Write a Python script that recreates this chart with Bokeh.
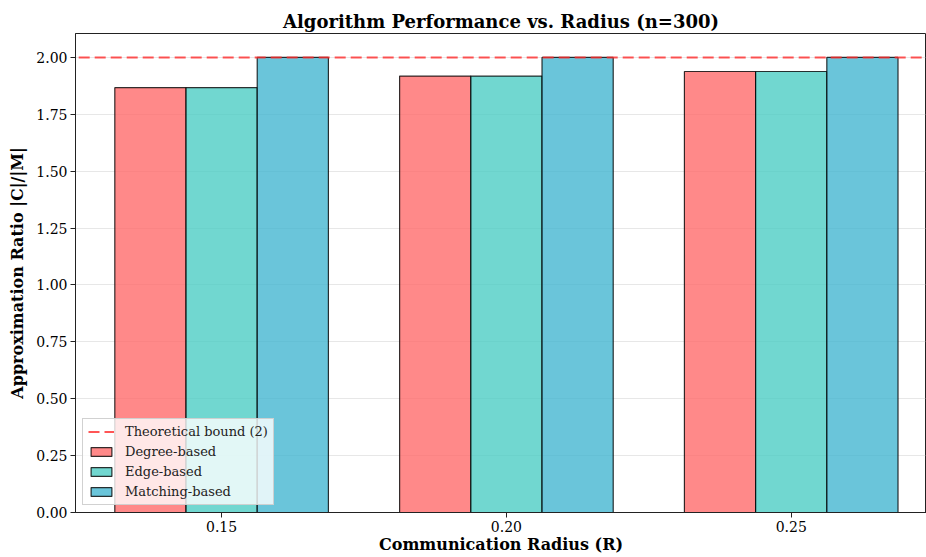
from bokeh.plotting import figure
from bokeh.models import (Legend, LegendItem, FixedTicker, NumeralTickFormatter,
                          ColumnDataSource, Range1d)
from bokeh.embed import file_html
from bokeh.resources import INLINE

# ---- data ----
radii = ["0.15", "0.20", "0.25"]
degree_based = [1.867, 1.918, 1.938]
edge_based = [1.867, 1.918, 1.938]
matching_based = [2.0, 2.0, 2.0]
theoretical_bound = 2.0
series_names = ["Degree-based", "Edge-based", "Matching-based"]
series_values = [degree_based, edge_based, matching_based]
series_colors = ["#FF6B6B", "#4ECDC4", "#45B7D1"]
y_ticks = [0.0, 0.25, 0.5, 0.75, 1.0, 1.25, 1.5, 1.75, 2.0]

FONT = "DejaVu Serif"
bar_w = 0.25
offsets = [-bar_w, 0.0, bar_w]
idx = list(range(len(radii)))

x_start, x_end = -0.513, 2.475

p = figure(width=926, height=557, output_backend="svg", toolbar_location=None,
           x_range=Range1d(x_start, x_end), y_range=Range1d(0, 2.105),
           min_border_left=75, min_border_right=0, min_border_top=33,
           min_border_bottom=45, title="Algorithm Performance vs. Radius (n=300)")

p.title.align = "center"
p.title.text_font = FONT
p.title.text_font_style = "bold"
p.title.text_font_size = "18px"
p.title.text_color = "black"
p.title.standoff = 3

bar_renderers = []
for name, vals, col, off in zip(series_names, series_values, series_colors, offsets):
    src = ColumnDataSource(dict(x=[i + off for i in idx], top=vals))
    r = p.vbar(x="x", top="top", bottom=0, width=bar_w, source=src,
               fill_color=col, fill_alpha=0.8, line_color="black",
               line_alpha=0.8, line_width=1.2)
    bar_renderers.append(r)

line_src = ColumnDataSource(dict(x=[x_start - 1, x_end + 1],
                                 y=[theoretical_bound, theoretical_bound]))
bound_r = p.line(x="x", y="y", source=line_src, line_color="#FF2A2A",
                 line_alpha=0.8, line_width=2, line_dash="11 5")

legend = Legend(items=[LegendItem(label="Theoretical bound (2)", renderers=[bound_r])] +
                [LegendItem(label=n, renderers=[r]) for n, r in zip(series_names, bar_renderers)],
                location="bottom_left")
legend.label_text_font = FONT
legend.label_text_font_size = "13px"
legend.label_text_color = "#222222"
legend.glyph_width = 26
legend.glyph_height = 11
legend.label_height = 15
legend.spacing = 5
legend.padding = 5
legend.margin = 7
legend.label_standoff = 11
legend.background_fill_color = "white"
legend.background_fill_alpha = 0.8
legend.border_line_color = "#cccccc"
legend.border_line_alpha = 0.9
p.add_layout(legend, "center")

# axes
p.xaxis.ticker = FixedTicker(ticks=idx)
p.xaxis.major_label_overrides = {i: r for i, r in zip(idx, radii)}
p.yaxis.ticker = FixedTicker(ticks=y_ticks)
p.yaxis.formatter = NumeralTickFormatter(format="0.00")
p.xaxis.axis_label = "Communication Radius (R)"
p.yaxis.axis_label = "Approximation Ratio |C|/|M|"
for ax in (p.xaxis, p.yaxis):
    ax.axis_label_text_font = FONT
    ax.axis_label_text_font_style = "bold"
    ax.axis_label_text_font_size = "16px"
    ax.axis_label_text_color = "black"
    ax.major_label_text_font = FONT
    ax.major_label_text_font_size = "14px"
    ax.major_label_text_color = "black"
    ax.minor_tick_line_color = None
    ax.major_tick_in = 0
    ax.major_tick_out = 5
    ax.axis_line_color = "#222222"
    ax.major_tick_line_color = "#222222"
    ax.major_label_standoff = 3
p.xaxis.axis_label_standoff = 0
p.yaxis.axis_label_standoff = 6

p.xgrid.grid_line_color = None
p.ygrid.grid_line_color = "#b0b0b0"
p.ygrid.grid_line_alpha = 0.3
p.outline_line_color = "#222222"
p.outline_line_alpha = 1.0
p.background_fill_color = "white"
p.border_fill_color = "white"

open("out.html", "w").write(file_html(p, INLINE))
